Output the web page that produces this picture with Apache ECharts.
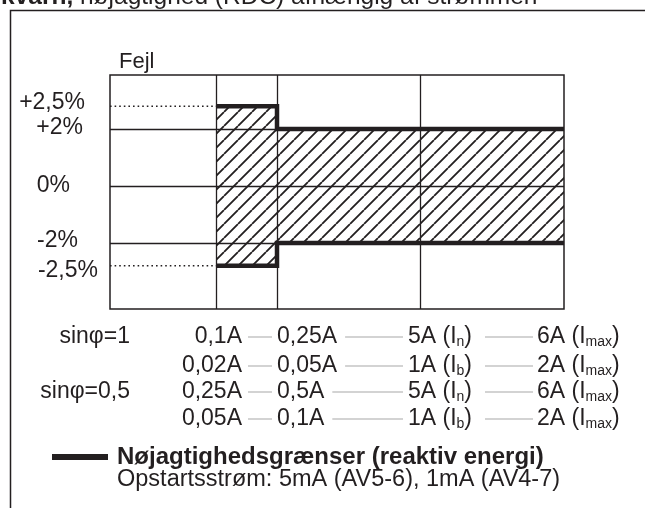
<!DOCTYPE html>
<html>
<head>
<meta charset="utf-8">
<script src="https://cdn.jsdelivr.net/npm/echarts/dist/echarts.min.js"></script>
<style>
  html, body { margin: 0; padding: 0; background: #fff; }
  #chart { width: 645px; height: 508px; }
</style>
</head>
<body>
<div id="chart"></div>
<script>
// schematic x positions of the current breakpoints (0,1A / 0,25A / 5A / 6A columns)
const xEdges = [0, 1.06, 1.67, 3.10, 4.54];
// schematic error levels (the drawing is not to scale: 2,5% sits at 2.8)
const yTickPos = [2.8, 2, 0, -2, -2.8];
const yTickText = ['+2,5%', '+2%', '0%', '-2%', '-2,5%'];
const gridLevels = [2, 0, -2];

const limitName = 'Nøjagtighedsgrænser (reaktiv energi)';
const upperLimit = [[xEdges[1], 2.8], [xEdges[2], 2.8], [xEdges[2], 2], [xEdges[4], 2]];
const lowerLimit = [[xEdges[1], -2.8], [xEdges[2], -2.8], [xEdges[2], -2], [xEdges[4], -2]];
// hatched bands: [x from, x to, low, high]
const bands = [[xEdges[1], xEdges[2], -2.8, 2.8], [xEdges[2], xEdges[4], -2, 2]];

// current table under the plot
const rowNames = ['sinφ=1', '', 'sinφ=0,5', ''];
const colA = ['0,1A', '0,02A', '0,25A', '0,05A'];
const colB = ['0,25A', '0,05A', '0,5A', '0,1A'];
const colC = ['5A (I{s|n})', '1A (I{s|b})', '5A (I{s|n})', '1A (I{s|b})'];
const colD = ['6A (I{s|max})', '2A (I{s|max})', '6A (I{s|max})', '2A (I{s|max})'];

const titleText = '{b|kvarh,} nøjagtighed (RDC) afhængig af strømmen';
const noteText = 'Opstartsstrøm: 5mA (AV5-6), 1mA (AV4-7)';

const ink = '#231f20';
const font = 'Liberation Sans, Arial, sans-serif';

// diagonal hatch tile
const tile = document.createElement('canvas');
tile.width = 14; tile.height = 14;
const g = tile.getContext('2d');
g.strokeStyle = ink; g.lineWidth = 1.8;
g.beginPath();
for (let k = -1; k <= 1; k++) { g.moveTo(k * 14, 14); g.lineTo(k * 14 + 14, 0); }
g.stroke();
const hatch = { image: tile, repeat: 'repeat' };

const rowY = [337, 366, 392, 419];
const sub = { s: { fontSize: 14, lineHeight: 14, verticalAlign: 'bottom', fontFamily: font, fill: ink } };

function txt(text, x, y, align, extra) {
  return {
    type: 'text', x: x, y: y, z: 10, silent: true,
    style: Object.assign({ text: text, fontSize: 23, fontFamily: font, fill: ink,
      align: align, verticalAlign: 'middle', lineHeight: 24, rich: sub }, extra || {})
  };
}

const graphic = [
  { type: 'rect', silent: true, shape: { x: 10.5, y: 10.5, width: 700, height: 600 },
    style: { fill: null, stroke: ink, lineWidth: 1.5 } },
  { type: 'text', x: 1, y: -2.5, silent: true,
    style: { text: titleText, fontSize: 24.5, fontFamily: font, fill: ink, verticalAlign: 'middle',
      rich: { b: { fontWeight: 'bold', fontSize: 24.5, fontFamily: font, fill: ink } } } },
  txt(noteText, 117, 480, 'left', { fontSize: 23.5 })
];
rowY.forEach(function (y, i) {
  graphic.push({ type: 'line', z: 5, silent: true, shape: { x1: 248, y1: y, x2: 533, y2: y },
    style: { stroke: '#c4c4c4', lineWidth: 1.6 } });
  if (rowNames[i]) graphic.push(txt(rowNames[i], 130, y, 'right'));
  graphic.push(txt(colA[i], 242, y, 'right'));
  graphic.push(txt(colB[i], 272, y, 'left', { backgroundColor: '#fff', padding: [0, 8, 0, 5] }));
  graphic.push(txt(colC[i], 403, y, 'left', { backgroundColor: '#fff', padding: [0, 13, 0, 5] }));
  graphic.push(txt(colD[i], 537, y, 'left'));
});

const labelRich = {
  r0: { padding: [0, 13, 8, 0] },
  r1: { padding: [0, 15, 2, 0] },
  r2: { padding: [0, 28, 0, 0] },
  r3: { padding: [0, 20, 4, 0] },
  r4: { padding: [10, 0, 0, 0] }
};
Object.keys(labelRich).forEach(function (k) {
  Object.assign(labelRich[k], { fontSize: 23, fontFamily: font, color: ink });
});

const chart = echarts.init(document.getElementById('chart'));
chart.setOption({
  animation: false,
  backgroundColor: '#fff',
  textStyle: { fontFamily: font, color: ink },
  grid: { left: 110, top: 75, right: 81, bottom: 199, show: true, borderColor: ink, borderWidth: 1.5,
    outerBoundsMode: 'none' },
  legend: {
    data: [limitName], left: 52, top: 445, padding: 0, icon: 'rect',
    itemWidth: 56, itemHeight: 6, selectedMode: false,
    textStyle: { fontSize: 24, fontWeight: 'bold', fontFamily: font, color: ink, padding: [0, 0, 0, 4] }
  },
  xAxis: {
    type: 'value', min: xEdges[0], max: xEdges[4],
    axisLine: { show: false }, axisTick: { show: false }, axisLabel: { show: false }, splitLine: { show: false }
  },
  yAxis: {
    type: 'value', min: -4.316, max: 3.895,
    name: 'Fejl', nameLocation: 'end', nameGap: 13,
    nameTextStyle: { fontSize: 22, fontFamily: font, color: ink, align: 'left', verticalAlign: 'middle',
      padding: [0, 0, 0, 9] },
    axisLine: { show: false }, axisTick: { show: false }, splitLine: { show: false },
    axisLabel: {
      customValues: yTickPos, align: 'right', margin: 12,
      formatter: function (v) {
        const i = yTickPos.findIndex(function (p) { return Math.abs(p - v) < 1e-6; });
        return '{r' + i + '|' + yTickText[i] + '}';
      },
      rich: labelRich
    }
  },
  graphic: graphic,
  series: [
    {
      type: 'custom', name: 'hatch', silent: true, data: bands,
      renderItem: function (params, api) {
        const p0 = api.coord([api.value(0), api.value(3)]);
        const p1 = api.coord([api.value(1), api.value(2)]);
        return { type: 'rect', shape: { x: p0[0], y: p0[1], width: p1[0] - p0[0], height: p1[1] - p0[1] },
          style: { fill: hatch, stroke: null } };
      }
    },
    {
      type: 'line', name: 'grid', data: [], silent: true,
      markLine: {
        silent: true, symbol: ['none', 'none'], label: { show: false },
        lineStyle: { type: 'solid', color: ink, width: 1.3 },
        emphasis: { disabled: true },
        data: xEdges.slice(1, 4).map(function (v) { return { xAxis: v }; })
          .concat(gridLevels.map(function (v) { return { yAxis: v }; }))
      }
    },
    {
      type: 'line', name: 'dots+', data: [[xEdges[0], yTickPos[0]], [xEdges[1], yTickPos[0]]],
      showSymbol: false, silent: true, lineStyle: { color: ink, width: 1.6, type: [1.6, 3] }
    },
    {
      type: 'line', name: 'dots-', data: [[xEdges[0], yTickPos[4]], [xEdges[1], yTickPos[4]]],
      showSymbol: false, silent: true, lineStyle: { color: ink, width: 1.6, type: [1.6, 3] }
    },
    {
      type: 'line', name: limitName, data: upperLimit, showSymbol: false, silent: true,
      itemStyle: { color: ink }, lineStyle: { color: ink, width: 4.5, join: 'miter' }
    },
    {
      type: 'line', name: limitName, data: lowerLimit, showSymbol: false, silent: true,
      itemStyle: { color: ink }, lineStyle: { color: ink, width: 4.5, join: 'miter' }
    }
  ]
});
</script>
</body>
</html>
